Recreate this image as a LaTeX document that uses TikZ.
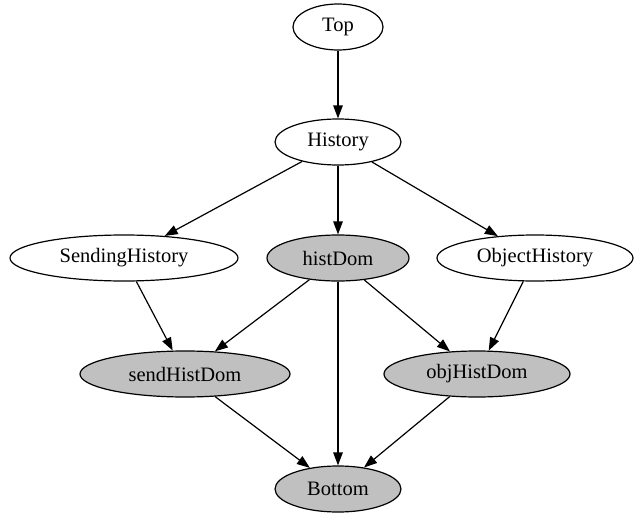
\documentclass[tikz,border=0pt]{standalone}
\usepackage{fontspec}
\setmainfont{Liberation Serif}
\usepackage{tikz}
\usetikzlibrary{arrows.meta,shapes.geometric}
\definecolor{DomGray}{HTML}{C0C0C0}
\tikzset{every node/.style={font=\fontsize{20.5}{24}\selectfont}}
\tikzset{
  lattnode/.style={ellipse,draw,line width=1.2pt,inner sep=0pt,minimum height=46pt},
  domnode/.style={lattnode,fill=DomGray},
  lattedge/.style={-{Triangle[length=13pt,width=9.5pt]},line width=1.2pt}
}

\begin{document}
\begin{tikzpicture}[x=1pt,y=-1pt]
  \useasboundingbox (0,0) rectangle (641,522);
  % --- upper part ---
  \node[lattnode,minimum width=90pt] (top) at (338,27) {Top};
  \node[lattnode,minimum width=126pt] (history) at (338,142) {History};
  % --- middle row ---
  \node[lattnode,minimum width=228pt] (sendhist) at (124,258) {SendingHistory};
  \node[domnode,minimum width=142pt] (histdom) at (338,258) {histDom};
  \node[lattnode,minimum width=196pt] (objhist) at (535,258) {ObjectHistory};
  % --- lower rows ---
  \node[domnode,minimum width=210pt] (sendhistdom) at (185,374) {sendHistDom};
  \node[domnode,minimum width=186pt] (objhistdom) at (477,374) {objHistDom};
  \node[domnode,minimum width=126pt] (bottom) at (338,489) {Bottom};
  % --- edges ---
  \draw[lattedge] (top) -- (history);
  \draw[lattedge] (history) -- (sendhist);
  \draw[lattedge] (history) -- (histdom);
  \draw[lattedge] (history) -- (objhist);
  \draw[lattedge] (sendhist) -- (sendhistdom);
  \draw[lattedge] (histdom) -- (sendhistdom);
  \draw[lattedge] (histdom) -- (bottom);
  \draw[lattedge] (histdom) -- (objhistdom);
  \draw[lattedge] (objhist) -- (objhistdom);
  \draw[lattedge] (sendhistdom) -- (bottom);
  \draw[lattedge] (objhistdom) -- (bottom);
\end{tikzpicture}
\end{document}
